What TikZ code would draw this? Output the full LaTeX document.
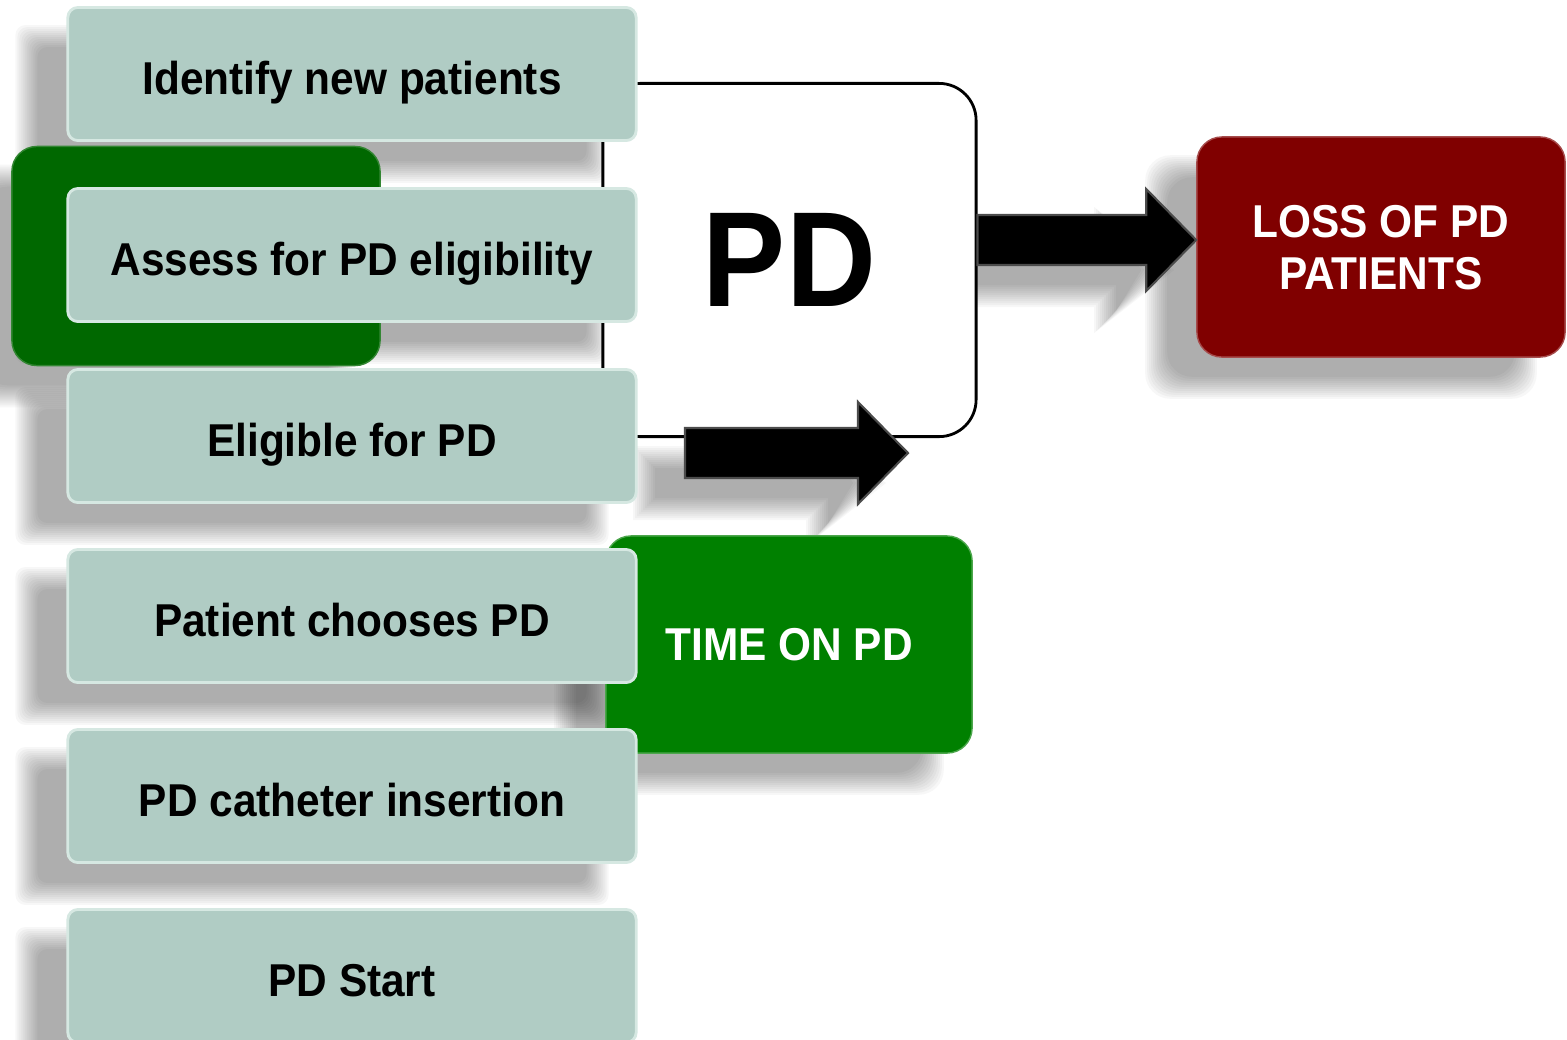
\documentclass[tikz,border=0pt]{standalone}
\usepackage{fontspec}
\setmainfont{Liberation Sans}[FakeStretch=0.92]
\usetikzlibrary{calc}

\definecolor{stepfill}{RGB}{176,204,196}
\definecolor{stepedge}{RGB}{214,232,226}
\definecolor{darkgreen}{RGB}{0,104,0}
\definecolor{timegreen}{RGB}{0,128,0}
\definecolor{lossred}{RGB}{128,0,0}

\pgfdeclarelayer{shadow}
\pgfdeclarelayer{frame}
\pgfsetlayers{shadow,frame,main}

\newcommand\boxfont{\bfseries\fontsize{13.1pt}{14.8pt}\selectfont}
\newcommand\bigfont{\bfseries\fontsize{38.5pt}{40pt}\selectfont}

% outline of a horizontal block arrow from #1 to #2, grown by #3
\newcommand\arrowpath[3]{%
  ($(#1)+({-(#3)},{-25-(#3)})$) -- ($(#2)+({-50-(#3)},{-25-(#3)})$)
  -- ($(#2)+({-50-(#3)},{-51-(#3)})$) -- ($(#2)+({1.5*(#3)},0)$)
  -- ($(#2)+({-50-(#3)},{51+(#3)})$) -- ($(#2)+({-50-(#3)},{25+(#3)})$)
  -- ($(#1)+({-(#3)},{25+(#3)})$) -- cycle}

\begin{document}
\begin{tikzpicture}[x=0.01cm, y=-0.01cm,
    stepbox/.style={rectangle, rounded corners=1mm, draw=stepedge, line width=0.8pt,
      fill=stepfill, minimum width=5.68cm, minimum height=1.33cm, font=\boxfont,
      text height=0.41cm, text depth=0pt},
    pdframe/.style={rectangle, rounded corners=3.7mm, draw=black, line width=0.8pt,
      fill=white, minimum width=3.73cm, minimum height=3.53cm, font=\bigfont},
    colorbox/.style={rectangle, rounded corners=2.5mm, minimum width=3.68cm,
      minimum height=2.19cm, text=white, font=\boxfont, align=center, text depth=0pt},
    blockarrow/.style={fill=black, draw=gray!60!black, line width=0.6pt},
    softshadow/.style={fill=black, fill opacity=0.03}]

  \useasboundingbox (0,0) rectangle (1567,1039);

  % PD frame behind the steps
  \begin{pgfonlayer}{frame}
    \node[pdframe] (pd) at (789.5,260) {PD};
  \end{pgfonlayer}

  % outcome boxes
  \node[colorbox, fill=darkgreen, draw=darkgreen!80!white] (assessbg) at (196,256) {};
  \node[colorbox, fill=timegreen, draw=timegreen!70!white, minimum width=3.66cm,
    minimum height=2.17cm] (time) at (789,644.5) {TIME ON PD};
  \node[colorbox, fill=lossred, draw=lossred!70!white, minimum height=2.2cm]
    (loss) at (1381,247) {LOSS OF PD\\PATIENTS};

  % pathway steps
  \node[stepbox] (ident)  at (352,74)  {Identify new patients};
  \node[stepbox] (assess) at (352,255) {Assess for PD eligibility};
  \node[stepbox] (elig)   at (352,436) {Eligible for PD};
  \node[stepbox] (choose) at (352,616) {Patient chooses PD};
  \node[stepbox] (cath)   at (352,796) {PD catheter insertion};
  \node[stepbox] (start)  at (352,976) {PD Start};

  % Arrows
  \coordinate (feed)  at (685,453);
  \coordinate (entry) at (908,453);
  \coordinate (exit)  at (pd.east |- 0,240);
  \coordinate (lossin) at (loss.west |- exit);
  \path[blockarrow] \arrowpath{feed}{entry}{0};
  \path[blockarrow] \arrowpath{exit}{lossin}{0};

  % soft shadows, down and to the left
  \begin{pgfonlayer}{shadow}
    \foreach \n/\r in {ident/1mm, assess/1mm, elig/1mm, choose/1mm, cath/1mm, start/1mm,
        assessbg/2.5mm, time/2.5mm, loss/2.5mm}
      \foreach \d in {0,2,...,22}
        \path[softshadow, rounded corners=\r]
          ($(\n.south west)+(-29-\d,19+\d)$) rectangle ($(\n.north east)+(-51+\d,41-\d)$);
    \coordinate (feedsh)   at ($(feed)+(-40,30)$);
    \coordinate (entrysh)  at ($(entry)+(-40,30)$);
    \coordinate (exitsh)   at ($(exit)+(-40,30)$);
    \coordinate (lossinsh) at ($(lossin)+(-40,30)$);
    \foreach \d in {-10,-8,...,12} {
      \path[softshadow] \arrowpath{feedsh}{entrysh}{\d};
      \path[softshadow] \arrowpath{exitsh}{lossinsh}{\d};
    }
  \end{pgfonlayer}
\end{tikzpicture}
\end{document}
